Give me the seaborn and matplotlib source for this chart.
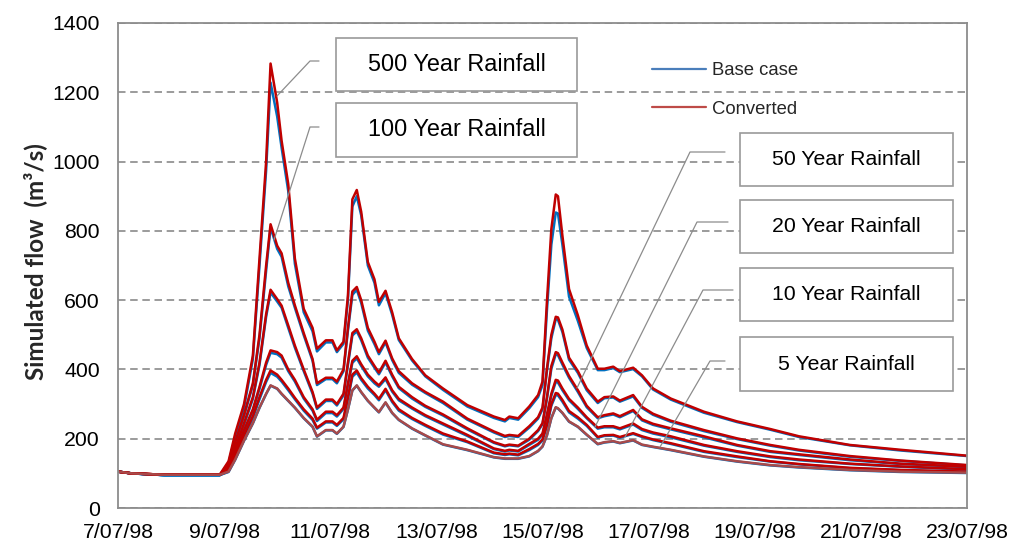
import matplotlib
matplotlib.use("Agg")
import matplotlib.pyplot as plt
import matplotlib.patches as mpatches
from matplotlib.lines import Line2D
import numpy as np
import pandas as pd
import seaborn as sns

sns.set_theme(style="white")
plt.rcParams['font.family'] = ['Liberation Sans', 'DejaVu Sans']

W, H = 1011, 554

# hours after 7/07/98 00:00
hours = [0, 6, 21, 46, 50, 53, 57, 61, 64, 67, 69,
         72, 74, 77, 80, 84, 88, 90,
         94, 97, 99, 102, 104, 106, 108,
         110, 113, 116, 118, 121, 124, 127,
         133, 139, 147, 158, 170,
         175, 177, 181, 186, 190, 192, 194,
         196, 198, 199, 201, 204, 208, 212,
         217, 220, 224, 227, 233, 237, 242,
         250, 265, 280, 295, 308, 331, 354, 384]

conv_500 = [105, 100, 96, 96, 135, 215, 300, 440, 720, 1000, 1283,
            1170, 1060, 935, 720, 575, 520, 460,
            484, 484, 455, 480, 613, 891, 918,
            855, 710, 660, 595, 627, 565, 490,
            430, 383, 345, 297, 264,
            254, 264, 259, 293, 326, 365, 595,
            805, 905, 900, 786, 632, 556, 469,
            402, 402, 408, 395, 405, 383, 345,
            316, 278, 250, 228, 207, 182, 168, 151]
base_500 = [105, 100, 95, 95, 130, 205, 290, 430, 700, 975, 1228,
            1130, 1040, 915, 705, 565, 510, 452,
            478, 478, 450, 474, 600, 870, 900,
            845, 700, 650, 585, 620, 558, 485,
            426, 380, 341, 293, 260,
            250, 260, 255, 288, 320, 355, 570,
            760, 853, 850, 760, 610, 540, 462,
            398, 398, 404, 392, 401, 380, 342,
            313, 275, 248, 226, 205, 181, 166, 150]

conv_100 = [105, 100, 96, 96, 125, 190, 270, 360, 500, 700, 819,
            757, 735, 650, 585, 505, 430, 360,
            376, 376, 365, 400, 520, 625, 638,
            600, 520, 480, 450, 483, 432, 395,
            360, 335, 307, 258, 221,
            208, 211, 208, 236, 262, 290, 402,
            500, 552, 550, 515, 434, 395, 345,
            307, 320, 322, 310, 326, 292, 272,
            252, 225, 201, 182, 168, 150, 137, 124]
base_100 = [105, 100, 95, 95, 122, 185, 265, 355, 490, 685, 810,
            748, 725, 640, 578, 499, 425, 355,
            372, 372, 360, 395, 512, 615, 630,
            592, 512, 473, 444, 478, 427, 390,
            356, 332, 303, 255, 218,
            205, 208, 205, 232, 258, 285, 395,
            490, 545, 543, 508, 428, 390, 340,
            303, 317, 319, 307, 322, 289, 269,
            249, 222, 199, 180, 166, 148, 136, 123]

conv_50 = [105, 100, 96, 96, 118, 172, 245, 320, 420, 560, 630,
           603, 584, 527, 469, 400, 335, 290,
           313, 313, 300, 330, 420, 505, 516,
           490, 440, 410, 391, 425, 385, 350,
           320, 295, 270, 230, 190,
           180, 183, 180, 200, 225, 245, 320,
           410, 450, 447, 420, 381, 340, 295,
           262, 268, 273, 265, 283, 256, 243,
           230, 207, 182, 164, 155, 140, 128, 119]
base_50 = [105, 100, 95, 95, 115, 168, 240, 315, 413, 552, 622,
           596, 578, 520, 463, 395, 330, 286,
           309, 309, 296, 325, 413, 498, 510,
           484, 434, 405, 386, 420, 380, 346,
           316, 292, 267, 227, 188,
           178, 181, 178, 197, 222, 242, 314,
           402, 444, 441, 414, 376, 335, 291,
           259, 265, 270, 262, 280, 253, 240,
           227, 204, 180, 162, 153, 138, 127, 118]

conv_20 = [105, 100, 96, 96, 112, 160, 225, 285, 350, 420, 455,
           450, 440, 400, 370, 320, 285, 255,
           278, 278, 268, 290, 360, 425, 438,
           415, 385, 365, 354, 377, 340, 315,
           290, 268, 244, 211, 172,
           165, 168, 165, 185, 200, 215, 270,
           330, 370, 368, 345, 315, 290, 262,
           232, 236, 236, 230, 244, 228, 218,
           207, 182, 164, 149, 140, 128, 120, 112]
base_20 = [105, 100, 95, 95, 110, 156, 220, 280, 344, 413, 448,
           444, 434, 395, 365, 316, 281, 251,
           274, 274, 264, 286, 355, 419, 432,
           410, 380, 360, 350, 372, 336, 311,
           287, 265, 241, 208, 170,
           163, 166, 163, 182, 197, 212, 265,
           324, 364, 362, 340, 311, 286, 259,
           229, 233, 233, 227, 241, 225, 215,
           204, 180, 162, 147, 138, 127, 119, 111]

conv_10 = [105, 100, 96, 96, 108, 150, 210, 265, 320, 370, 397,
           385, 370, 345, 318, 285, 258, 232,
           250, 250, 240, 260, 320, 385, 397,
           375, 350, 330, 315, 344, 310, 285,
           260, 240, 215, 192, 160,
           155, 157, 154, 170, 185, 198, 240,
           300, 332, 330, 312, 280, 262, 240,
           205, 210, 211, 205, 216, 207, 198,
           187, 164, 149, 135, 127, 116, 110, 105]
base_10 = [105, 100, 95, 95, 106, 146, 205, 260, 314, 364, 390,
           379, 365, 340, 314, 281, 254, 229,
           247, 247, 237, 256, 315, 379, 391,
           370, 345, 326, 311, 340, 306, 281,
           257, 237, 212, 190, 158,
           153, 155, 152, 167, 182, 195, 236,
           295, 326, 325, 307, 276, 258, 237,
           203, 208, 209, 203, 214, 205, 196,
           185, 162, 147, 134, 126, 115, 109, 104]

conv_5 = [105, 100, 96, 96, 105, 140, 195, 245, 290, 330, 354,
          345, 330, 310, 290, 260, 235, 207,
          225, 225, 215, 235, 285, 340, 354,
          335, 310, 290, 277, 305, 275, 255,
          230, 210, 184, 168, 147,
          143, 143, 143, 150, 165, 178, 210,
          260, 291, 288, 275, 250, 235, 212,
          185, 190, 193, 188, 196, 183, 177,
          168, 149, 135, 124, 118, 110, 105, 102]
base_5 = [105, 100, 95, 95, 104, 139, 194, 244, 289, 329, 353,
          344, 329, 309, 289, 259, 234, 206,
          224, 224, 214, 234, 284, 339, 353,
          334, 309, 289, 276, 304, 274, 254,
          229, 209, 183, 167, 146,
          142, 142, 142, 149, 164, 177, 209,
          259, 290, 287, 274, 249, 234, 211,
          184, 189, 192, 187, 195, 182, 176,
          167, 148, 134, 123, 117, 109, 104, 101]

periods = ["500", "100", "50", "20", "10", "5"]
base_series = [base_500, base_100, base_50, base_20, base_10, base_5]
conv_series = [conv_500, conv_100, conv_50, conv_20, conv_10, conv_5]

tick_dates = ["1998-07-07", "1998-07-09", "1998-07-11", "1998-07-13",
              "1998-07-15", "1998-07-17", "1998-07-19", "1998-07-21", "1998-07-23"]
tick_labels = ["7/07/98", "9/07/98", "11/07/98", "13/07/98", "15/07/98",
               "17/07/98", "19/07/98", "21/07/98", "23/07/98"]

box_labels = ["500 Year Rainfall", "100 Year Rainfall", "50 Year Rainfall",
              "20 Year Rainfall", "10 Year Rainfall", "5 Year Rainfall"]

BLUE = "#0070C0"
RED = "#C00000"
GRID = "#8A8A8A"

start = pd.Timestamp("1998-07-07")
times = start + pd.to_timedelta(hours, unit="h")
frames = []
for p, b, c in zip(periods, base_series, conv_series):
    frames.append(pd.DataFrame({"time": times, "flow": b, "period": p, "case": "Base case"}))
    frames.append(pd.DataFrame({"time": times, "flow": c, "period": p, "case": "Converted"}))
df = pd.concat(frames, ignore_index=True)

fig = plt.figure(figsize=(W / 100, H / 100), dpi=100)
ax = fig.add_axes([118 / W, 1 - 508 / H, (967 - 118) / W, (508 - 23) / H])

sns.lineplot(data=df[df.case == "Base case"], x="time", y="flow", units="period",
             estimator=None, color=BLUE, lw=1.8, ax=ax, legend=False)
conv_pal = {p: RED for p in periods}
conv_pal["5"] = "#A84A4A"
sns.lineplot(data=df[df.case == "Converted"], x="time", y="flow", hue="period",
             hue_order=periods, palette=conv_pal, estimator=None, lw=1.8, ax=ax,
             legend=False)

ax.set_xlim(start, pd.Timestamp("1998-07-23"))
ax.set_ylim(0, 1400)
ax.set_yticks(np.arange(0, 1401, 200))
ax.set_xticks(pd.to_datetime(tick_dates))
ax.set_xticklabels(tick_labels)
ax.set_xlabel("")
ax.set_ylabel("")
ax.yaxis.grid(True, color=GRID, lw=1.2, linestyle=(0, (4.5, 2.8)))
ax.xaxis.grid(False)
for s in ax.spines.values():
    s.set_color("#8C8C8C")
    s.set_linewidth(1.3)
ax.tick_params(axis="both", direction="out", length=5, width=1.3, color="#8C8C8C",
               labelsize=15.3, labelcolor="black")
ax.tick_params(axis="x", pad=6)
ax.tick_params(axis="y", pad=8)

fig.text(35 / W, 1 - 262 / H, "Simulated flow  (m³/s)", rotation=90, ha="center",
         va="center", fontsize=17.5, fontweight="bold", family=["Lato", "DejaVu Sans"])

# legend
handles = [Line2D([], [], color="#4A7EBB", lw=1.6), Line2D([], [], color="#BE4B48", lw=1.6)]
ax.legend(handles, ["Base case", "Converted"], loc="upper left",
          bbox_to_anchor=(652 / W, 1 - 62 / H), bbox_transform=fig.transFigure,
          frameon=False, borderpad=0, borderaxespad=0, handlelength=2.9,
          handletextpad=0.35, labelspacing=1.17, fontsize=13.3)

# callout boxes and leader lines (pixel layout)
boxes = [(336, 38, 577, 91), (336, 103, 577, 157), (740, 133, 953, 186),
         (740, 200, 953, 253), (740, 268, 953, 321), (740, 337, 953, 391)]
box_sizes = [16.8, 16.8, 15.3, 15.3, 15.3, 15.3]
leaders = [((319, 61), (310, 61), (277, 96)),
           ((319, 127), (310, 127), (274, 240)),
           ((725, 152), (690, 152), (577, 388)),
           ((728, 222), (697, 222), (595, 427)),
           ((733, 290), (703, 290), (625, 437)),
           ((725, 361), (710, 361), (660, 447))]


def fx(px):
    return px / W


def fy(py):
    return 1 - py / H


for (x0, y0, x1, y1), lbl, fs in zip(boxes, box_labels, box_sizes):
    fig.add_artist(mpatches.Rectangle((fx(x0), fy(y1)), fx(x1) - fx(x0), fy(y0) - fy(y1),
                                      transform=fig.transFigure, facecolor="white",
                                      edgecolor="#9A9A9A", lw=1.2, zorder=5))
    fig.text(fx((x0 + x1) / 2), fy((y0 + y1) / 2), lbl, ha="center", va="center",
             fontsize=fs, color="black", zorder=6)

for a, b, c in leaders:
    fig.add_artist(Line2D([fx(a[0]), fx(b[0]), fx(c[0])], [fy(a[1]), fy(b[1]), fy(c[1])],
                          transform=fig.transFigure, color="#8C8C8C", lw=0.9, zorder=4))

fig.savefig("out.png", dpi=100)
